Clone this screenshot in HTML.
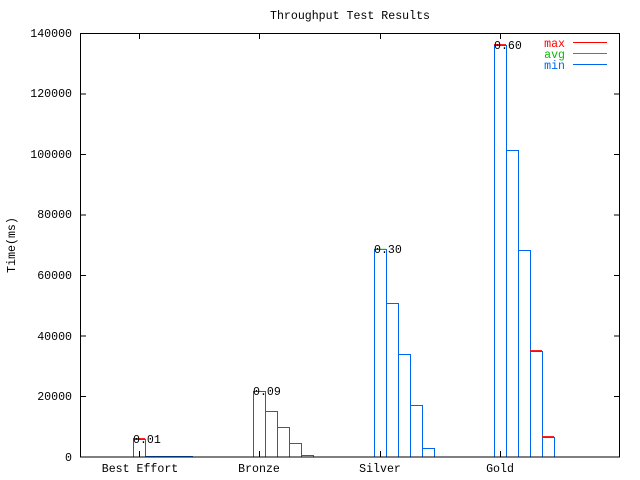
<!DOCTYPE html>
<html><head><meta charset="utf-8"><style>body{margin:0;background:#fff}svg{display:block}text{font-family:"Liberation Mono",monospace;font-size:11.6px}</style></head><body>
<svg width="640" height="480" viewBox="0 0 640 480" xmlns="http://www.w3.org/2000/svg">
<rect width="640" height="480" fill="#fff"/>
<text x="350" y="19" text-anchor="middle">Throughput Test Results</text>
<text transform="translate(15,245) rotate(-90)" text-anchor="middle">Time(ms)</text>
<g text-anchor="end">
<text x="72" y="461">0</text><text x="72" y="400">20000</text><text x="72" y="340">40000</text><text x="72" y="279">60000</text><text x="72" y="218">80000</text><text x="72" y="158">100000</text><text x="72" y="97">120000</text><text x="72" y="37">140000</text>
</g>
<g stroke="#000" stroke-width="1">
<path d="M80 396.5h6M80 336h6M80 275.5h6M80 215h6M80 154.5h6M80 94h6M614 396.5h6M614 336h6M614 275.5h6M614 215h6M614 154.5h6M614 94h6"/>
<path d="M139.5 457v-6M259.5 457v-6M380.5 457v-6M500.5 457v-6M139.5 33v6M259.5 33v6M380.5 33v6M500.5 33v6"/>
</g>
<g text-anchor="middle"><text x="140" y="472">Best Effort</text><text x="259" y="472">Bronze</text><text x="380" y="472">Silver</text><text x="500" y="472">Gold</text></g>
<g fill="none" stroke="#0066ee" stroke-width="1">
<path d="M133.5 457V439.5H145.5V457M145.5 456.5H193"/>
<path d="M253.5 457V391.5H265.5V457M265.5 411.5H277.5V457M277.5 427.5H289.5V457M289.5 443.5H301.5V457M301.5 455.5H313.5V457"/>
<path d="M374.5 457V249.5H386.5V457M386.5 303.5H398.5V457M398.5 354.5H410.5V457M410.5 405.5H422.5V457M422.5 448.5H434.5V457"/>
<path d="M494.5 457V45.5H506.5V457M506.5 150.5H518.5V457M518.5 250.5H530.5V457M530.5 351.5H542.5V457M542.5 437.5H554.5V457"/>
</g>
<g stroke="#ff0000" stroke-width="1.3"><path d="M133 438.8H145M494 44.8H506M530 350.8H542M542 436.8H554"/></g>
<path d="M374 249.3H386" stroke="#00c000" stroke-width="1"/>
<rect x="80.5" y="33.5" width="539" height="423.5" fill="none" stroke="#000"/>
<text x="133" y="443">0.01</text><text x="253" y="395">0.09</text><text x="374" y="253">0.30</text><text x="494" y="49">0.60</text>
<text x="565" y="47" text-anchor="end" fill="#ff0000">max</text>
<text x="565" y="58" text-anchor="end" fill="#00c000">avg</text>
<text x="565" y="69" text-anchor="end" fill="#0066ee">min</text>
<path d="M573 42.5h34" stroke="#ff0000"/><path d="M573 53.5h34" stroke="#00c000"/><path d="M573 64.5h34" stroke="#0066ee"/>
</svg>
</body></html>
